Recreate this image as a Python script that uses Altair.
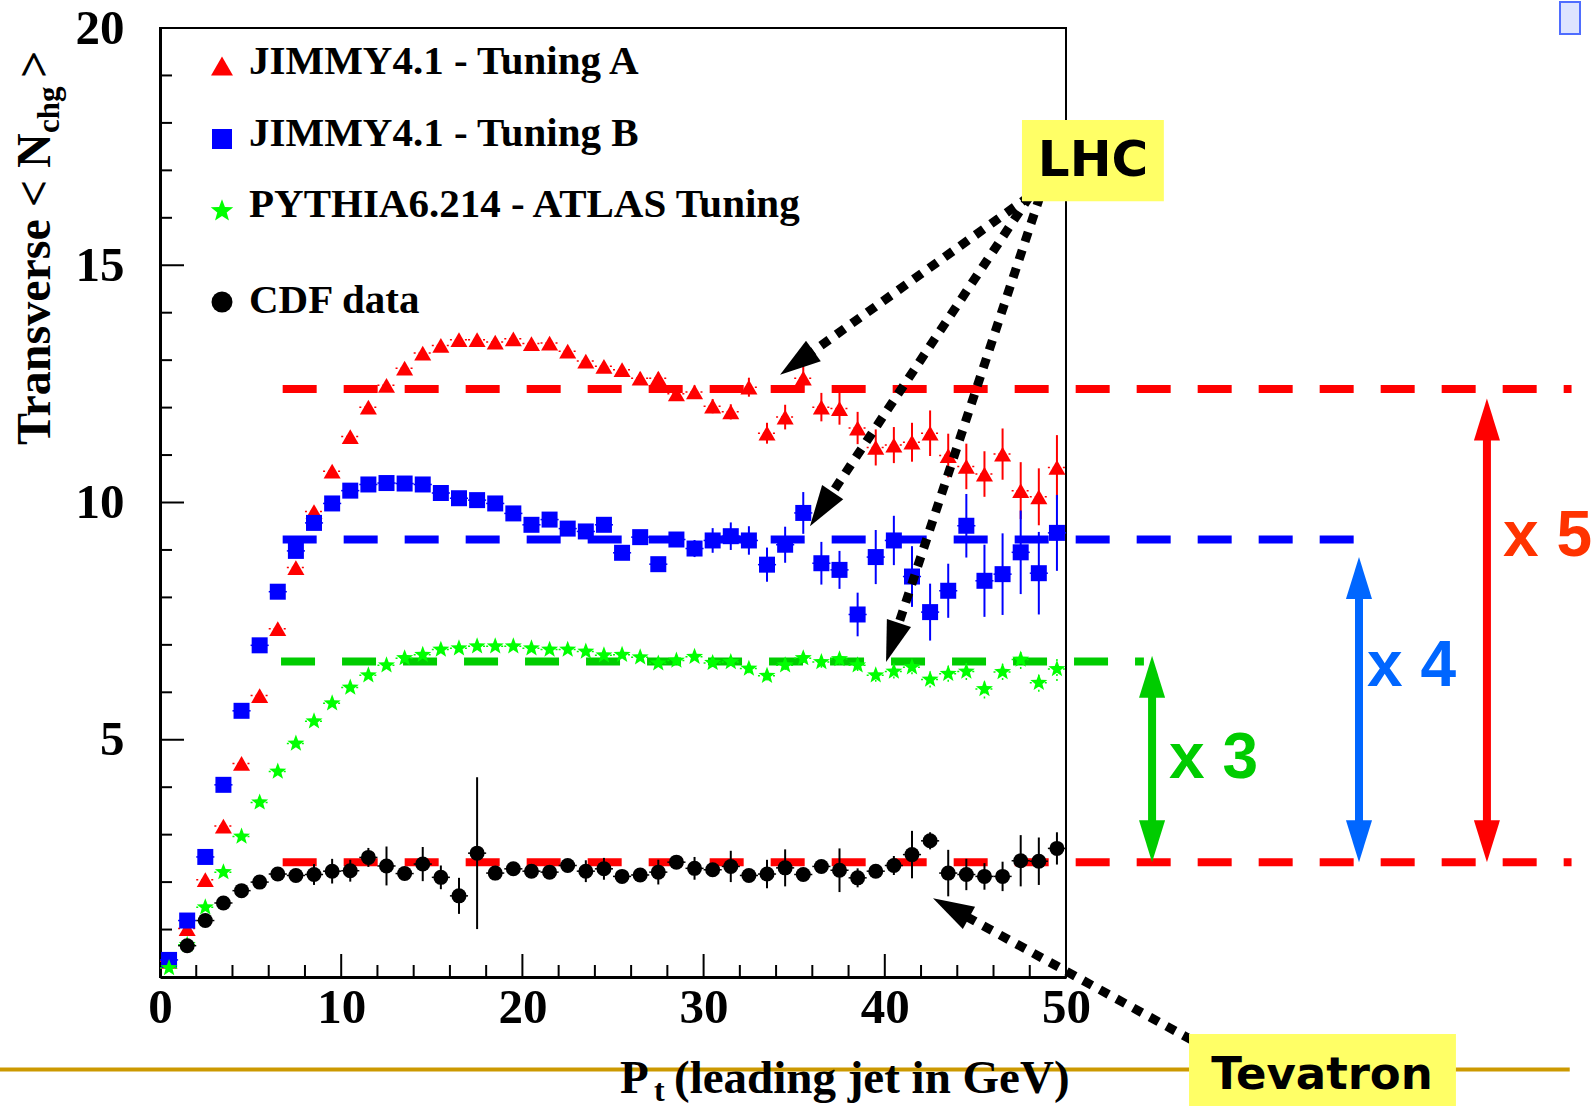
import math
import altair as alt
import pandas as pd

# ---------------- data ----------------
PT = [0.5, 1.5, 2.5, 3.5, 4.5, 5.5, 6.5, 7.5, 8.5, 9.5, 10.5, 11.5, 12.5, 13.5, 14.5,
      15.5, 16.5, 17.5, 18.5, 19.5, 20.5, 21.5, 22.5, 23.5, 24.5, 25.5, 26.5, 27.5,
      28.5, 29.5, 30.5, 31.5, 32.5, 33.5, 34.5, 35.5, 36.5, 37.5, 38.5, 39.5, 40.5,
      41.5, 42.5, 43.5, 44.5, 45.5, 46.5, 47.5, 48.5, 49.5]

TUNE_A = [0.33, 1.02, 2.05, 3.18, 4.50, 5.93, 7.34, 8.63, 9.81, 10.66,
          11.39, 12.01, 12.47, 12.83, 13.15, 13.31, 13.43, 13.43, 13.38, 13.45,
          13.35, 13.36, 13.19, 12.98, 12.87, 12.80, 12.62, 12.62, 12.29, 12.33,
          12.03, 11.91, 12.43, 11.46, 11.80, 12.62, 12.01, 11.98, 11.57, 11.16,
          11.21, 11.27, 11.46, 10.99, 10.76, 10.60, 11.02, 10.25, 10.12, 10.74]
TUNE_A_ERR = [0.04, 0.04, 0.04, 0.04, 0.04, 0.04, 0.04, 0.04, 0.04, 0.04,
              0.05, 0.05, 0.05, 0.05, 0.05, 0.05, 0.06, 0.06, 0.06, 0.06,
              0.07, 0.07, 0.08, 0.08, 0.10, 0.10, 0.12, 0.12, 0.14, 0.14,
              0.15, 0.16, 0.20, 0.22, 0.26, 0.29, 0.30, 0.34, 0.34, 0.38,
              0.38, 0.41, 0.48, 0.46, 0.48, 0.48, 0.54, 0.60, 0.60, 0.68]

TUNE_B = [0.36, 1.19, 2.53, 4.05, 5.61, 6.99, 8.12, 8.98, 9.57, 9.98,
          10.25, 10.38, 10.41, 10.40, 10.38, 10.20, 10.09, 10.05, 9.98, 9.77,
          9.53, 9.64, 9.45, 9.39, 9.53, 8.94, 9.27, 8.70, 9.22, 9.03,
          9.20, 9.29, 9.20, 8.69, 9.11, 9.78, 8.72, 8.58, 7.64, 8.85,
          9.20, 8.44, 7.69, 8.14, 9.51, 8.35, 8.49, 8.95, 8.51, 9.36]
TUNE_B_ERR = [0.04, 0.04, 0.04, 0.04, 0.04, 0.04, 0.04, 0.04, 0.04, 0.04,
              0.05, 0.05, 0.05, 0.05, 0.05, 0.05, 0.06, 0.06, 0.06, 0.06,
              0.07, 0.07, 0.08, 0.08, 0.12, 0.12, 0.13, 0.14, 0.15, 0.18,
              0.26, 0.29, 0.30, 0.36, 0.38, 0.44, 0.45, 0.40, 0.46, 0.57,
              0.52, 0.64, 0.60, 0.57, 0.67, 0.76, 0.86, 0.88, 0.87, 0.80]

PYTHIA = [0.19, 0.68, 1.47, 2.21, 2.96, 3.68, 4.33, 4.92, 5.39, 5.77,
          6.10, 6.36, 6.57, 6.72, 6.79, 6.90, 6.93, 6.97, 6.97, 6.97,
          6.93, 6.90, 6.90, 6.86, 6.78, 6.79, 6.74, 6.61, 6.67, 6.75,
          6.62, 6.64, 6.50, 6.35, 6.57, 6.72, 6.64, 6.70, 6.57, 6.36,
          6.44, 6.53, 6.27, 6.39, 6.44, 6.07, 6.43, 6.69, 6.20, 6.49]
PYTHIA_ERR = [0.04, 0.04, 0.04, 0.04, 0.04, 0.04, 0.04, 0.04, 0.04, 0.04,
              0.04, 0.04, 0.04, 0.04, 0.04, 0.04, 0.04, 0.04, 0.04, 0.04,
              0.04, 0.04, 0.04, 0.04, 0.04, 0.04, 0.04, 0.04, 0.04, 0.04,
              0.08, 0.08, 0.10, 0.10, 0.10, 0.10, 0.12, 0.12, 0.12, 0.14,
              0.15, 0.15, 0.17, 0.17, 0.18, 0.20, 0.17, 0.20, 0.19, 0.25]

CDF_PT = PT[1:]
CDF = [0.66, 1.19, 1.56, 1.82, 2.00, 2.17, 2.14, 2.16, 2.23, 2.24,
       2.52, 2.34, 2.18, 2.38, 2.10, 1.71, 2.61, 2.19, 2.28, 2.23,
       2.21, 2.35, 2.23, 2.28, 2.12, 2.15, 2.21, 2.42, 2.29, 2.26,
       2.33, 2.14, 2.17, 2.30, 2.16, 2.33, 2.25, 2.09, 2.23, 2.35,
       2.58, 2.87, 2.19, 2.16, 2.12, 2.12, 2.45, 2.44, 2.71]
CDF_ERR = [0.05, 0.05, 0.05, 0.05, 0.06, 0.08, 0.08, 0.22, 0.26, 0.23,
           0.20, 0.41, 0.10, 0.36, 0.25, 0.38, 1.60, 0.15, 0.10, 0.12,
           0.12, 0.12, 0.23, 0.23, 0.10, 0.10, 0.26, 0.10, 0.24, 0.12,
           0.33, 0.10, 0.30, 0.39, 0.10, 0.12, 0.46, 0.20, 0.10, 0.20,
           0.50, 0.18, 0.49, 0.33, 0.28, 0.31, 0.54, 0.50, 0.34]

LEGEND_LABELS = ["JIMMY4.1 - Tuning A", "JIMMY4.1 - Tuning B",
                 "PYTHIA6.214 - ATLAS Tuning", "CDF data"]

X_LABELS = [0, 10, 20, 30, 40, 50]
Y_LABELS = [5, 10, 15, 20]
X_MINOR = [2, 4, 6, 8, 12, 14, 16, 18, 22, 24, 26, 28, 32, 34, 36, 38, 42, 44, 46, 48]
X_MAJOR = [10, 20, 30, 40]
Y_MINOR = [1, 2, 3, 4, 6, 7, 8, 9, 11, 12, 13, 14, 16, 17, 18, 19]
Y_MAJOR = [5, 10, 15]

# annotation levels (dashed lines)
LEVEL_Y = [12.39, 9.22, 6.65, 2.42]
LEVEL_X0 = [6.77, 6.77, 6.68, 6.77]
LEVEL_X1 = [77.9, 66.0, 54.3, 77.9]
LEVEL_COLOR = ["#ff0000", "#0000ff", "#00cc00", "#ff0000"]

# ratio double arrows
RATIO_X = [54.75, 66.17, 73.23]
RATIO_TOP = [6.77, 8.85, 12.19]
RATIO_BOT = [2.42, 2.42, 2.42]
RATIO_COLOR = ["#00cc00", "#0066ff", "#ff0000"]
RATIO_TEXT = ["x 3", "x 4", "x 5"]
RATIO_TEXT_COLOR = ["#00cc00", "#0066ff", "#ff3300"]

# dotted pointer arrows (LHC x3, Tevatron x1)
PTR_X0 = [48.01, 48.01, 48.57, 56.95]
PTR_Y0 = [16.46, 16.46, 16.46, -1.33]
PTR_X1 = [34.22, 35.87, 40.07, 42.66]
PTR_Y1 = [12.69, 9.50, 6.64, 1.66]

LHC_BOX = [47.57, 55.40, 16.35, 18.06]
TEV_BOX = [56.79, 71.52, -1.20, -2.75]
GOLD_X = [-8.9, 77.8]
GOLD_Y = -1.95

# ---------------- layout ----------------
W, H = 906, 949
LEFT, TOP = 160, 28
PX_X = W / 50.0
PX_Y = H / 20.0

SERIF = "Liberation Serif"
SANS = "Liberation Sans"

xsc = alt.Scale(domain=[0, 50], nice=False, zero=False)
ysc = alt.Scale(domain=[0, 20], nice=False, zero=False)

lab_common = dict(labelFont=SERIF, labelFontSize=49, labelFontWeight="bold",
                  labelColor="black", grid=False, title=None, tickSize=0,
                  domainColor="black", domainWidth=3, labelOverlap=False,
                  labelFlush=False, format="d")
XAXIS = alt.Axis(values=X_LABELS, labelPadding=6, **lab_common)
YAXIS = alt.Axis(values=Y_LABELS, labelPadding=36, **lab_common)


def X(f):
    return alt.X(f, type="quantitative", scale=xsc, axis=XAXIS, title=None)


def Y(f):
    return alt.Y(f, type="quantitative", scale=ysc, axis=YAXIS, title=None)


def one():
    return alt.Chart(pd.DataFrame({"k": [0]}))


def label(text, px, py, size, color="black", font=SERIF, weight="bold",
          angle=None, align="left", baseline="alphabetic"):
    kw = dict(text=text, fontSize=size, color=color, font=font,
              fontWeight=weight, align=align, baseline=baseline)
    if angle is not None:
        kw["angle"] = angle
    return one().mark_text(**kw).encode(x=alt.value(px - LEFT), y=alt.value(py - TOP))


def star_path(inner=0.42):
    pts = []
    for k in range(10):
        r = 1.0 if k % 2 == 0 else inner
        a = math.radians(-90 + 36 * k)
        pts.append("%.3f,%.3f" % (r * math.cos(a), r * math.sin(a)))
    return "M" + "L".join(pts) + "Z"


STAR = star_path()
HEAD = "M0,0L0.62,2L-0.62,2Z"

layers = []

# gold slide line
layers.append(
    alt.Chart(pd.DataFrame({"x0": [GOLD_X[0]], "x1": [GOLD_X[1]], "y": [GOLD_Y]}))
    .mark_rule(color="#cc9900", strokeWidth=4)
    .encode(x=X("x0"), x2=alt.X2("x1"), y=Y("y"))
)

# inner ticks
layers.append(
    alt.Chart(pd.DataFrame({"v": X_MINOR})).mark_rule(color="black", strokeWidth=2)
    .encode(x=X("v"), y=alt.value(H), y2=alt.value(H - 12))
)
layers.append(
    alt.Chart(pd.DataFrame({"v": X_MAJOR})).mark_rule(color="black", strokeWidth=2)
    .encode(x=X("v"), y=alt.value(H), y2=alt.value(H - 23))
)
layers.append(
    alt.Chart(pd.DataFrame({"v": Y_MINOR})).mark_rule(color="black", strokeWidth=2)
    .encode(y=Y("v"), x=alt.value(0), x2=alt.value(12))
)
layers.append(
    alt.Chart(pd.DataFrame({"v": Y_MAJOR})).mark_rule(color="black", strokeWidth=2)
    .encode(y=Y("v"), x=alt.value(0), x2=alt.value(24))
)

# dashed level lines
lev_df = pd.DataFrame({"y": LEVEL_Y, "x0": LEVEL_X0, "x1": LEVEL_X1, "c": LEVEL_COLOR})
layers.append(
    alt.Chart(lev_df).mark_rule(strokeWidth=8, strokeDash=[34, 27], strokeCap="butt")
    .encode(x=X("x0"), x2=alt.X2("x1"), y=Y("y"), color=alt.Color("c:N", scale=None))
)


def series(xs, ys, es, color, shape, size, vdash=None, hdash=None, width=2):
    df = pd.DataFrame({"pt": xs, "v": ys,
                       "lo": [y - e for y, e in zip(ys, es)],
                       "hi": [y + e for y, e in zip(ys, es)],
                       "xl": [x - 0.5 for x in xs],
                       "xr": [x + 0.5 for x in xs]})
    base = alt.Chart(df)
    vk = dict(color=color, strokeWidth=width)
    if vdash:
        vk["strokeDash"] = vdash
    hk = dict(color=color, strokeWidth=1.5)
    if hdash:
        hk["strokeDash"] = hdash
    return [
        base.mark_rule(**vk).encode(x=X("pt"), y=Y("lo"), y2=alt.Y2("hi")),
        base.mark_rule(**hk).encode(x=X("xl"), x2=alt.X2("xr"), y=Y("v")),
        base.mark_point(shape=shape, filled=True, size=size, color=color,
                        opacity=1, strokeWidth=0).encode(x=X("pt"), y=Y("v")),
    ]


layers += series(PT, TUNE_A, TUNE_A_ERR, "#ff0000", "triangle-up", 290, hdash=[2, 3])
layers += series(PT, TUNE_B, TUNE_B_ERR, "#0000ff", "square", 256)
layers += series(PT, PYTHIA, PYTHIA_ERR, "#00ff00", STAR, 320, vdash=[2, 3], hdash=[2, 3], width=1.5)
layers += series(CDF_PT, CDF, CDF_ERR, "#000000", "circle", 225)

# legend
LEG_SYM_X = 222
LEG_TXT_X = 249
leg_sym_y = [66, 139, 211, 302]
leg_txt_y = [62, 134, 205, 301]
leg_shapes = ["triangle-up", "square", STAR, "circle"]
leg_sizes = [480, 400, 560, 440]
leg_colors = ["#ff0000", "#0000ff", "#00ff00", "#000000"]
for lab, sy, ty, shp, sz, col in zip(LEGEND_LABELS, leg_sym_y, leg_txt_y, leg_shapes, leg_sizes, leg_colors):
    layers.append(one().mark_point(shape=shp, filled=True, size=sz, color=col, opacity=1, strokeWidth=0)
                  .encode(x=alt.value(LEG_SYM_X - LEFT), y=alt.value(sy - TOP)))
    layers.append(label(lab, LEG_TXT_X, ty, 41, baseline="middle"))

# ratio double arrows
shaft_df = pd.DataFrame({"x": RATIO_X,
                         "s0": [t - 25 / PX_Y for t in RATIO_TOP],
                         "s1": [b + 25 / PX_Y for b in RATIO_BOT],
                         "c": RATIO_COLOR})
layers.append(
    alt.Chart(shaft_df).mark_rule(strokeWidth=8)
    .encode(x=X("x"), y=Y("s0"), y2=alt.Y2("s1"), color=alt.Color("c:N", scale=None))
)
heads_df = pd.DataFrame({"x": RATIO_X + RATIO_X,
                         "y": RATIO_TOP + RATIO_BOT,
                         "a": [0] * len(RATIO_X) + [180] * len(RATIO_X),
                         "c": RATIO_COLOR + RATIO_COLOR})
layers.append(
    alt.Chart(heads_df).mark_point(shape=HEAD, filled=True, size=1764, opacity=1, strokeWidth=0)
    .encode(x=X("x"), y=Y("y"), color=alt.Color("c:N", scale=None),
            angle=alt.Angle("a:Q", scale=None))
)
ratio_pos = [(1169, 778), (1367, 686), (1503, 556)]
for txt, col, (px, py) in zip(RATIO_TEXT, RATIO_TEXT_COLOR, ratio_pos):
    layers.append(label(txt, px, py, 64, color=col, font=SANS))

# dotted pointer arrows
rows = []
for x0, y0, x1, y1 in zip(PTR_X0, PTR_Y0, PTR_X1, PTR_Y1):
    dx = (x1 - x0) * PX_X
    dy = -(y1 - y0) * PX_Y
    L = math.hypot(dx, dy)
    ux, uy = dx / L, dy / L
    ang = math.degrees(math.atan2(dx, -dy)) % 360
    rows.append({"x0": x0, "y0": y0, "x1": x1, "y1": y1, "ang": ang,
                 "xe": x1 - ux * 25 / PX_X, "ye": y1 + uy * 25 / PX_Y})
ptr_df = pd.DataFrame(rows)
layers.append(
    alt.Chart(ptr_df).mark_rule(color="black", strokeWidth=9, strokeDash=[10, 9])
    .encode(x=X("x0"), y=Y("y0"), x2=alt.X2("xe"), y2=alt.Y2("ye"))
)

# boxes
for box in (LHC_BOX, TEV_BOX):
    layers.append(
        alt.Chart(pd.DataFrame({"x0": [box[0]], "x1": [box[1]], "y0": [box[2]], "y1": [box[3]]}))
        .mark_rect(color="#ffff66", opacity=1)
        .encode(x=X("x0"), x2=alt.X2("x1"), y=Y("y0"), y2=alt.Y2("y1"))
    )
layers.append(label("LHC", 1093, 161, 50, font="DejaVu Sans", align="center", baseline="middle"))
layers.append(label("Tevatron", 1322, 1075, 45, font="DejaVu Sans", align="center", baseline="middle"))

layers.append(
    alt.Chart(ptr_df).mark_point(shape=HEAD, filled=True, size=1681, color="black", opacity=1, strokeWidth=0)
    .encode(x=X("x1"), y=Y("y1"), angle=alt.Angle("ang:Q", scale=None))
)

# axis titles (with subscripts)
layers.append(label("Transverse < N", 50, 445, 48, angle=270))
layers.append(label("chg", 59, 133, 31, angle=270))
layers.append(label(">", 50, 78, 48, angle=270))
layers.append(label("P", 620, 1093, 47))
layers.append(label("t", 654, 1101, 32))
layers.append(label("(leading jet in GeV)", 674, 1093, 47))

# small glyph at top right of the slide
layers.append(
    one().mark_rect(fill="#dde4ff", stroke="#4f6dff", strokeWidth=2)
    .encode(x=alt.value(1560 - LEFT), x2=alt.value(1580 - LEFT),
            y=alt.value(-26), y2=alt.value(34 - TOP))
)

chart = (
    alt.layer(*layers)
    .properties(width=W, height=H,
                autosize=alt.AutoSizeParams(type="none"),
                padding={"left": LEFT, "top": TOP, "right": 1594 - LEFT - W, "bottom": 1106 - TOP - H},
                background="white")
    .configure_view(stroke="black", strokeWidth=2)
)

chart.save("out.html", embed_options={"renderer": "svg", "actions": False})
